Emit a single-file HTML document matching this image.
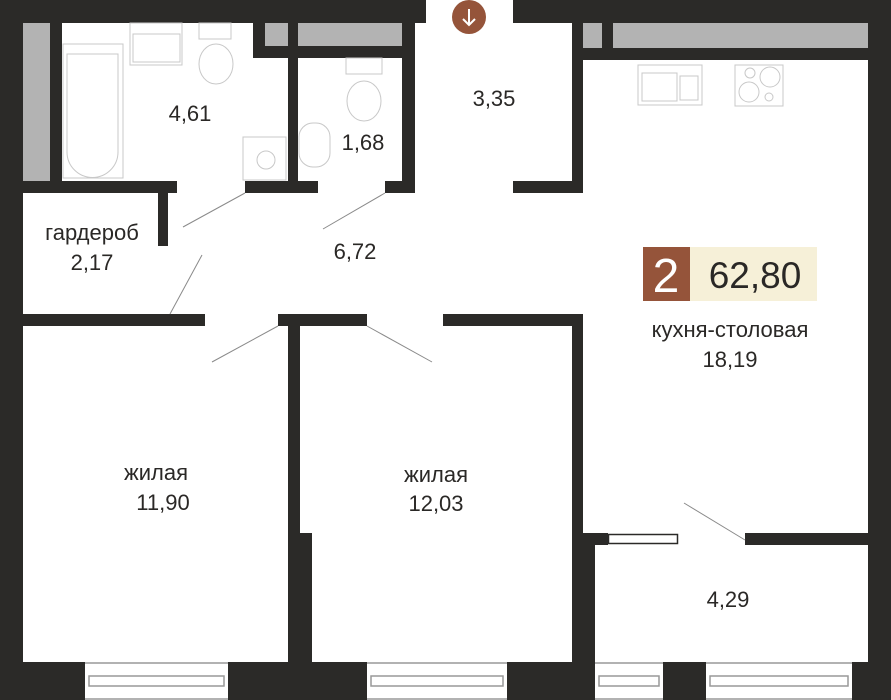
<!DOCTYPE html>
<html><head><meta charset="utf-8"><style>
html,body{margin:0;padding:0;background:#fff;width:891px;height:700px;overflow:hidden}
svg{display:block}
text{font-family:"Liberation Sans","DejaVu Sans",sans-serif;fill:#2a2826}
</style></head><body>
<svg width="891" height="700" viewBox="0 0 891 700" xmlns="http://www.w3.org/2000/svg">
<g fill="#2b2a28">
<rect x="0" y="0" width="426" height="23"/>
<rect x="513" y="0" width="378" height="23"/>
<rect x="0" y="0" width="23" height="700"/>
<rect x="868" y="0" width="23" height="700"/>
<rect x="50" y="23" width="12" height="170"/>
<rect x="23" y="181" width="154" height="12"/>
<rect x="158" y="181" width="10" height="65"/>
<rect x="245" y="181" width="73" height="12"/>
<rect x="253" y="23" width="12" height="35"/>
<rect x="253" y="46" width="162" height="12"/>
<rect x="288" y="23" width="10" height="170"/>
<rect x="402" y="23" width="13" height="170"/>
<rect x="385" y="181" width="30" height="12"/>
<rect x="572" y="23" width="11" height="170"/>
<rect x="513" y="181" width="70" height="12"/>
<rect x="602" y="23" width="11" height="37"/>
<rect x="572" y="48" width="296" height="12"/>
<rect x="23" y="314" width="182" height="12"/>
<rect x="278" y="314" width="89" height="12"/>
<rect x="443" y="314" width="140" height="12"/>
<rect x="288" y="314" width="12" height="230"/>
<rect x="288" y="533" width="24" height="167"/>
<rect x="572" y="314" width="11" height="230"/>
<rect x="572" y="533" width="23" height="167"/>
<rect x="583" y="533" width="25" height="12"/>
<rect x="745" y="533" width="123" height="12"/>
<rect x="0" y="662" width="85" height="38"/>
<rect x="228" y="662" width="139" height="38"/>
<rect x="507" y="662" width="88" height="38"/>
<rect x="663" y="662" width="43" height="38"/>
<rect x="852" y="662" width="39" height="38"/>
</g>
<g fill="#b3b3b3">
<rect x="23" y="23" width="27" height="158"/>
<rect x="265" y="23" width="23" height="23"/>
<rect x="298" y="23" width="104" height="23"/>
<rect x="583" y="23" width="19" height="25"/>
<rect x="613" y="23" width="255" height="25"/>
</g>
<rect x="608.5" y="534.5" width="69" height="9" fill="#fff" stroke="#2b2a28" stroke-width="1.5"/>
<g fill="none" stroke="#999" stroke-width="1.5">
<path d="M85 663H228M85 699H228M367 663H507M367 699H507M595 663H663M595 699H663M706 663H852M706 699H852"/>
<rect x="89" y="676" width="135" height="10"/>
<rect x="371" y="676" width="132" height="10"/>
<rect x="599" y="676" width="60" height="10"/>
<rect x="710" y="676" width="138" height="10"/>
</g>
<g stroke="#8a8a8a" stroke-width="1">
<path d="M245 193L183 227M385 193L323 229M202 255L170 314M278 326L212 362M367 326L432 362M745 540L684 503"/>
</g>
<g fill="none" stroke="#c8c8c8" stroke-width="1">
<rect x="63" y="44" width="60" height="134"/>
<path d="M67 152V54H118V152A25 25 0 0 1 67 152Z"/>
<rect x="130" y="23" width="52" height="42"/>
<rect x="133" y="34" width="47" height="28"/>
<rect x="199" y="23" width="32" height="16"/>
<ellipse cx="216" cy="64" rx="17" ry="20"/>
<rect x="243" y="137" width="43" height="43"/>
<circle cx="266" cy="160" r="9"/>
<rect x="346" y="58" width="36" height="16"/>
<ellipse cx="364" cy="101" rx="17" ry="20"/>
<rect x="299" y="123" width="31" height="44" rx="14"/>
<rect x="638" y="65" width="64" height="40"/>
<rect x="642" y="73" width="35" height="28"/>
<rect x="680" y="76" width="18" height="24"/>
<rect x="735" y="65" width="48" height="41"/>
<circle cx="750" cy="73" r="5"/><circle cx="770" cy="77" r="10"/>
<circle cx="749" cy="92" r="10"/><circle cx="769" cy="97" r="4"/>
</g>
<circle cx="469" cy="17" r="17" fill="#95543a"/>
<path d="M469 9V25M463 19L469 25L475 19" stroke="#fff" stroke-width="2" fill="none"/>
<rect x="643" y="247" width="47" height="54" fill="#95543a"/>
<rect x="690" y="247" width="127" height="54" fill="#f6f0d8"/>
<text x="666" y="292" font-size="48" text-anchor="middle" style="fill:#fff">2</text>
<text x="755" y="288" font-size="37" text-anchor="middle">62,80</text>
<g font-size="22" text-anchor="middle">
<text x="190" y="121">4,61</text>
<text x="363" y="150">1,68</text>
<text x="494" y="106">3,35</text>
<text x="92" y="240">гардероб</text>
<text x="92" y="270">2,17</text>
<text x="355" y="259">6,72</text>
<text x="730" y="337">кухня-столовая</text>
<text x="730" y="367">18,19</text>
<text x="156" y="480">жилая</text>
<text x="163" y="510">11,90</text>
<text x="436" y="482">жилая</text>
<text x="436" y="511">12,03</text>
<text x="728" y="607">4,29</text>
</g>
</svg>
</body></html>
